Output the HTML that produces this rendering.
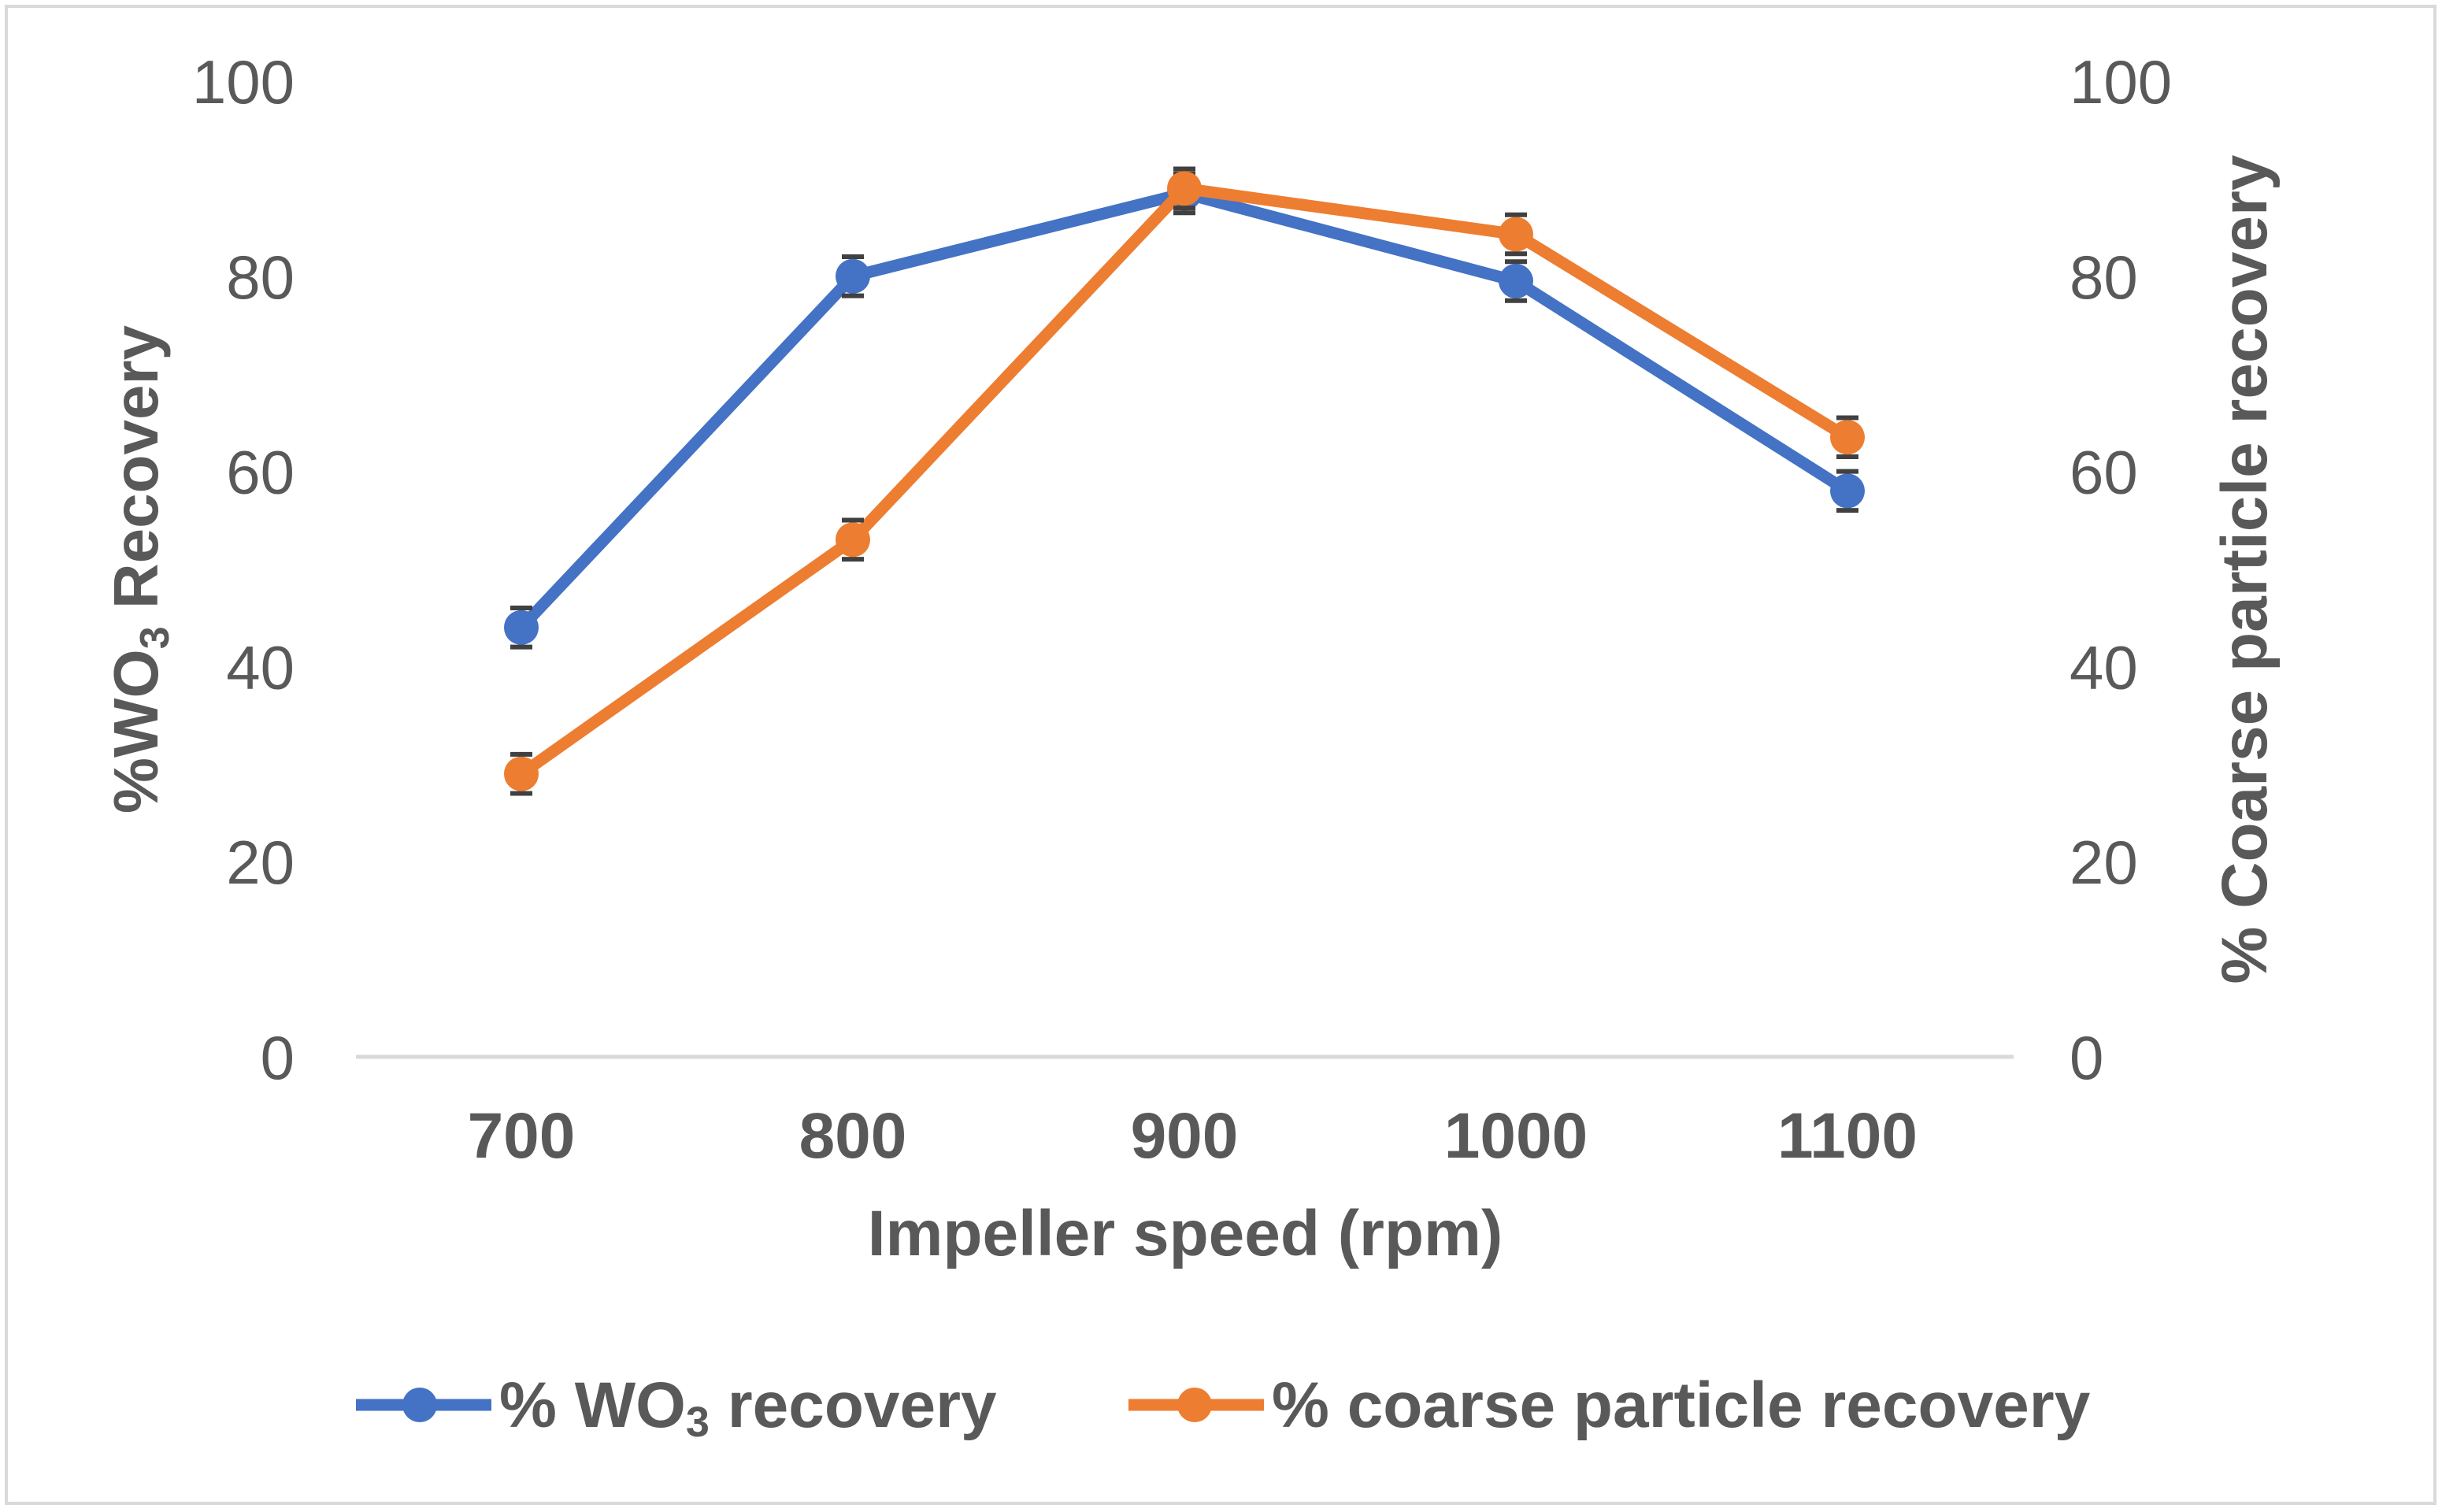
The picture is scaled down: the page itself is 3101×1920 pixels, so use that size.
<!DOCTYPE html>
<html><head><meta charset="utf-8"><style>
html,body{margin:0;padding:0;background:#fff}
svg{display:block}
text{font-family:"Liberation Sans",Arial,sans-serif;fill:#595959}
</style></head><body>
<svg id="chart" width="3101" height="1920" viewBox="0 0 3101 1920" xmlns="http://www.w3.org/2000/svg">
<rect x="8" y="8" width="3084" height="1901" fill="#fff" stroke="#d9d9d9" stroke-width="4"/>
<line x1="452" y1="1342" x2="2557" y2="1342" stroke="#d9d9d9" stroke-width="5"/>
<g id="yl"></g>
<g id="yr"></g>
<g id="xt"></g>
<text transform="translate(200,723) rotate(-90)" text-anchor="middle" font-size="80" font-weight="bold">%WO<tspan font-size="52" dy="14">3</tspan><tspan dy="-14"> Recovery</tspan></text>
<text transform="translate(2878,723) rotate(-90)" text-anchor="middle" font-size="82" font-weight="bold">% Coarse particle recovery</text>
<text x="1505" y="1594" text-anchor="middle" font-size="82" font-weight="bold">Impeller speed (rpm)</text>
<g id="series"></g>
<g>
<g>
<line x1="452" y1="1784" x2="624" y2="1784" stroke="#4472C4" stroke-width="15"/>
<circle cx="533" cy="1784" r="22" fill="#4472C4"/>
<text x="634" y="1812" font-size="82" font-weight="bold">% WO<tspan font-size="54" dy="12">3</tspan><tspan dy="-12"> recovery</tspan></text>
</g>
<g>
<line x1="1433" y1="1784" x2="1605" y2="1784" stroke="#ED7D31" stroke-width="15"/>
<circle cx="1517" cy="1784" r="22" fill="#ED7D31"/>
<text x="1615" y="1812" font-size="82" font-weight="bold">% coarse particle recovery</text>
</g>
</g>
</svg>
<script>
const categories = [700, 800, 900, 1000, 1100];
const wo3Values = [44, 80, 88.5, 79.5, 58];
const coarseValues = [29, 53, 89, 84.3, 63.5];
const wo3Errors = [2, 2, 2, 2, 2];
const coarseErrors = [2, 2, 2, 2, 2];
const yTicks = [0, 20, 40, 60, 80, 100];

const NS = "http://www.w3.org/2000/svg";
const X0 = 662, XSTEP = 421, Y0 = 1342, Y100 = 103;
function xPos(i){ return X0 + i * XSTEP; }
function yPos(v){ return Y0 - (v / 100) * (Y0 - Y100); }
function mk(tag, attrs, parent){
  const e = document.createElementNS(NS, tag);
  for (const k in attrs) e.setAttribute(k, attrs[k]);
  parent.appendChild(e);
  return e;
}
const yl = document.getElementById('yl'), yr = document.getElementById('yr'), xt = document.getElementById('xt');
yTicks.forEach(t => {
  const a = mk('text', {x: 374, y: yPos(t) + 28, 'text-anchor': 'end', 'font-size': 78}, yl);
  a.textContent = t;
  
  
  const b = mk('text', {x: 2628, y: yPos(t) + 28, 'text-anchor': 'start', 'font-size': 78}, yr);
  b.textContent = t;
  
  
});
categories.forEach((c, i) => {
  const t = mk('text', {x: xPos(i), y: 1470, 'text-anchor': 'middle', 'font-size': 82, 'font-weight': 'bold'}, xt);
  t.textContent = c;
  
  
});
const series = document.getElementById('series');
function drawSeries(vals, errs, color, name){
  const g = mk('g', {}, series);
  
  
  const pts = vals.map((v, i) => xPos(i) + ',' + yPos(v)).join(' ');
  const pl = mk('polyline', {points: pts, fill: 'none', stroke: color, 'stroke-width': 15, 'stroke-linejoin': 'round'}, g);
  
  
  vals.forEach((v, i) => {
    const x = xPos(i), yt = yPos(v + errs[i]), yb = yPos(v - errs[i]);
    const eb = mk('path', {d: `M${x},${yt}V${yb}M${x-14},${yt}H${x+14}M${x-14},${yb}H${x+14}`, stroke: '#404040', 'stroke-width': 6, fill: 'none'}, g);
    
    
  });
  vals.forEach((v, i) => {
    const c = mk('circle', {cx: xPos(i), cy: yPos(v), r: 22, fill: color}, g);
    
    
  });
}
drawSeries(wo3Values, wo3Errors, '#4472C4', 'wo3');
drawSeries(coarseValues, coarseErrors, '#ED7D31', 'coarse');
</script>
</body></html>
